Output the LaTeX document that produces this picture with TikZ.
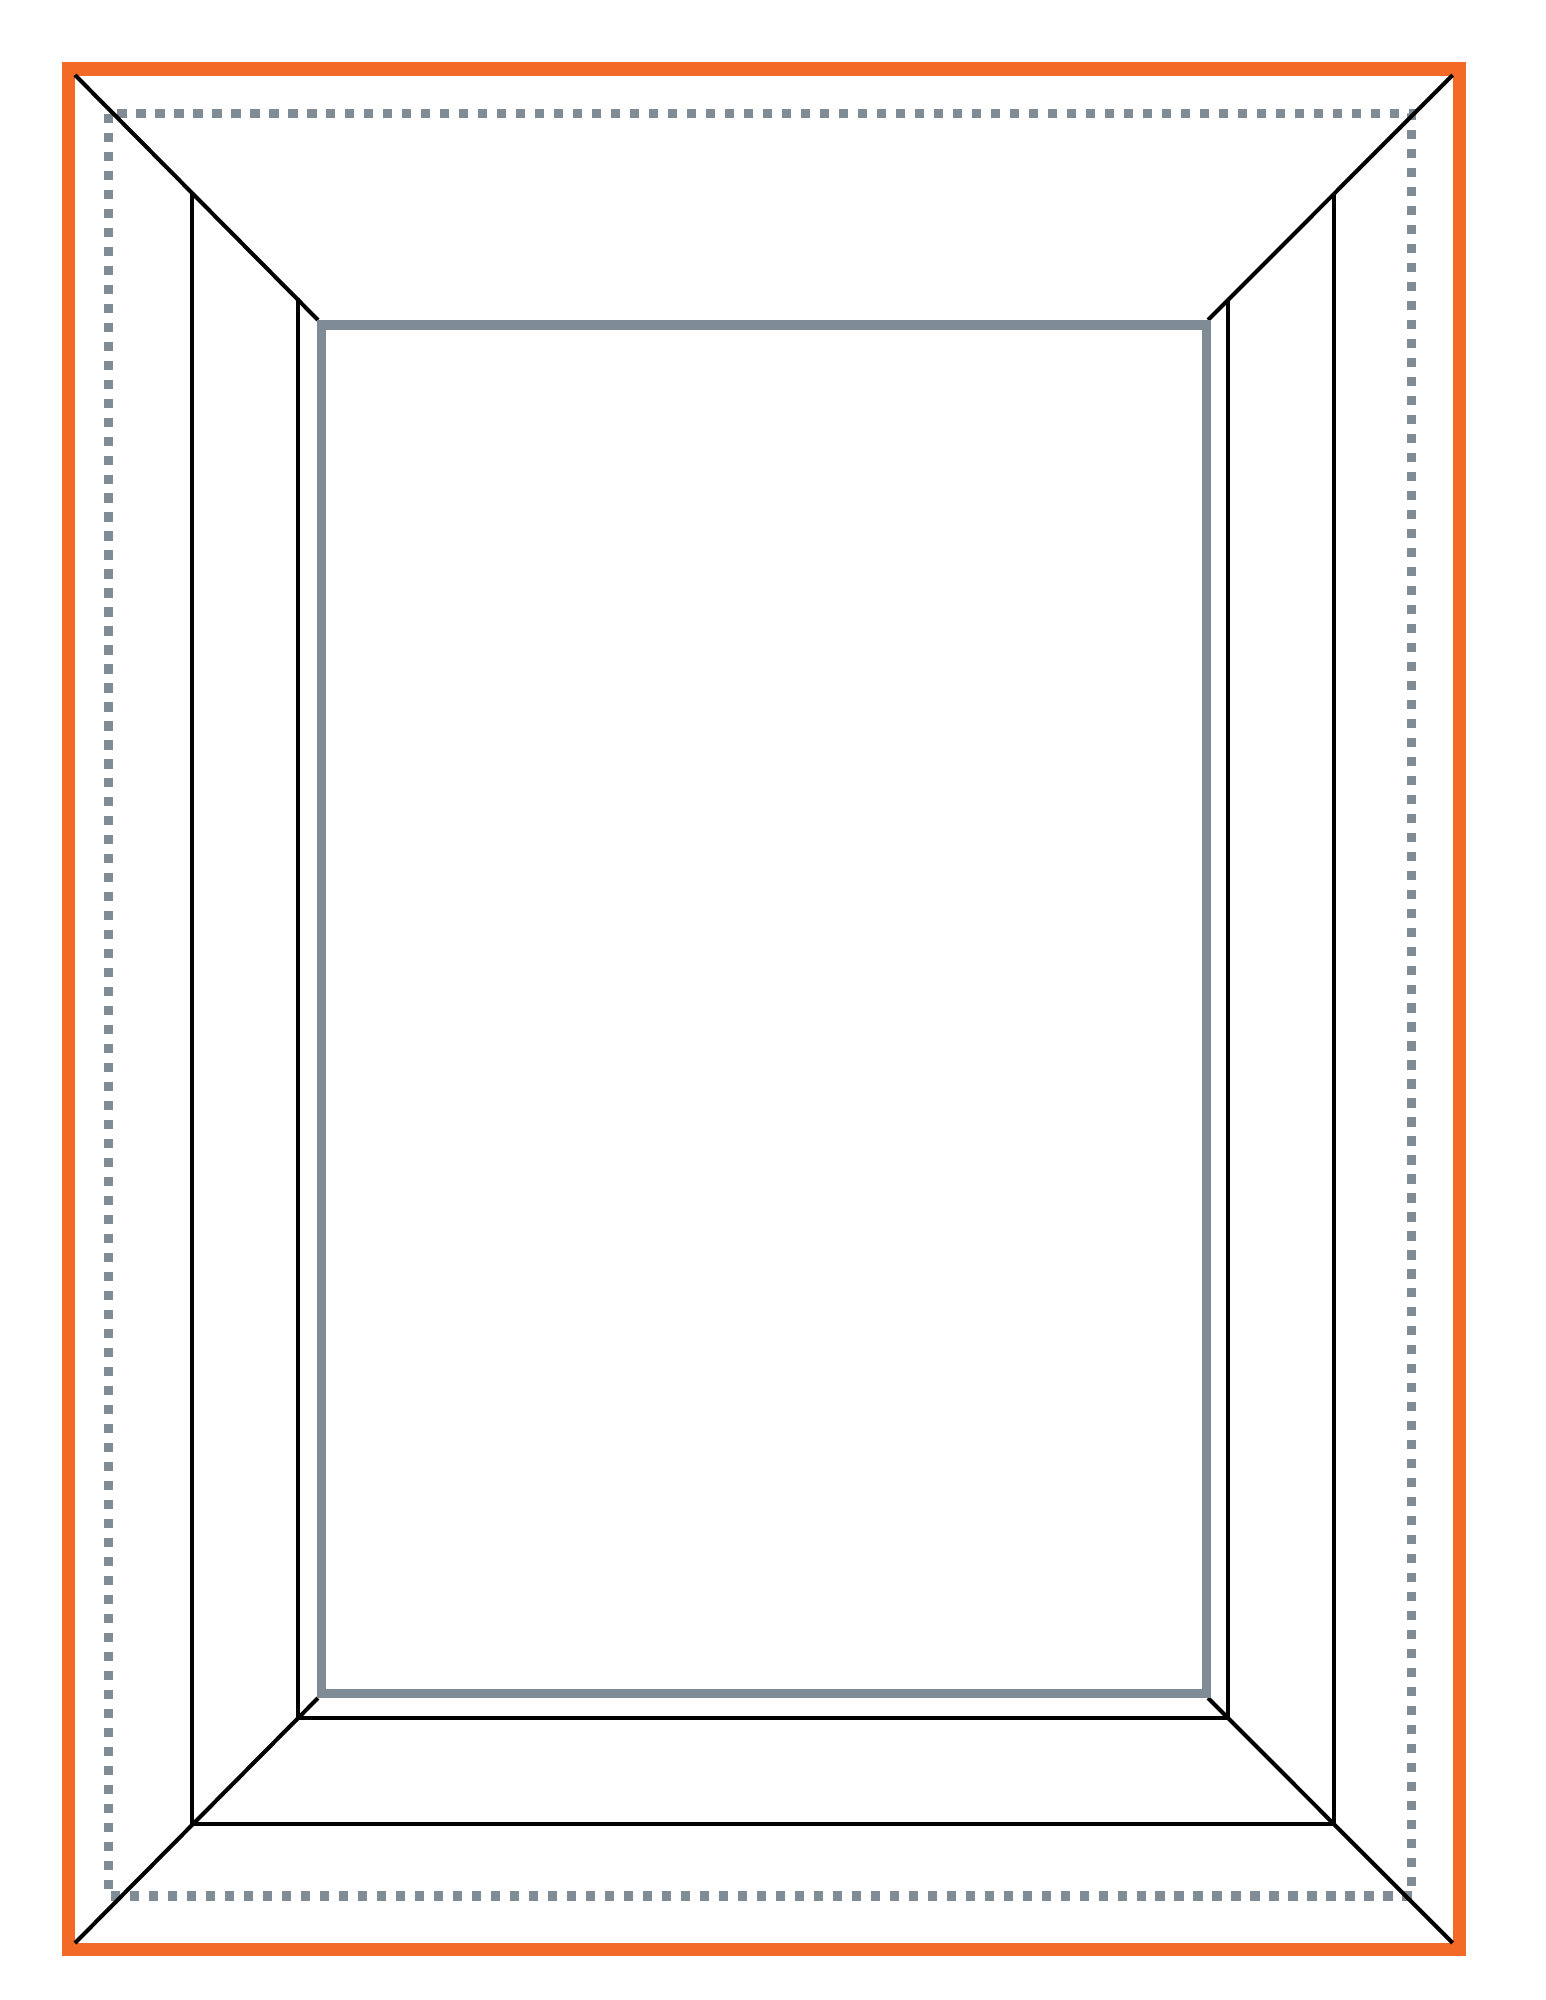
\documentclass[tikz,border=0pt]{standalone}
\definecolor{frameorange}{RGB}{242,106,38}
\definecolor{slategray}{RGB}{127,140,149}
\begin{document}
\begin{tikzpicture}[x=0.01cm,y=-0.01cm,
    outerframe/.style={line width=3.7pt, frameorange},
    safeline/.style={line width=2.6pt, slategray, dash pattern=on 2.6pt off 2.8pt},
    panelline/.style={line width=2.56pt, slategray},
    bevelline/.style={line width=1.15pt, black}]
    \useasboundingbox (0,0) rectangle (1545,2000);
    \coordinate (FrameTL) at (68.5,69);
    \coordinate (FrameBR) at (1459,1949.5);
    \coordinate (CornerTL) at (75,75);
    \coordinate (CornerTR) at (1452.7,75);
    \coordinate (CornerBL) at (75,1943);
    \coordinate (CornerBR) at (1452.7,1943);
    \coordinate (SafeTL) at (108.3,113.7);
    \coordinate (SafeBR) at (1411.5,1896);
    \coordinate (PanelTL) at (321,325);
    \coordinate (PanelBR) at (1206,1693);
    \draw [outerframe] (FrameTL) rectangle (FrameBR);% Draw frame
    \draw [safeline] (SafeTL) rectangle (SafeBR);% Draw safe area

    \coordinate (DiagTL) at (318,320);
    \coordinate (DiagTR) at (1208,320);
    \coordinate (DiagBL) at (318,1698);
    \coordinate (DiagBR) at (1208,1698);
    \draw [bevelline] (CornerTL) -- (DiagTL);% Draw diagonals
    \draw [bevelline] (CornerTR) -- (DiagTR);
    \draw [bevelline] (CornerBL) -- (DiagBL);
    \draw [bevelline] (CornerBR) -- (DiagBR);

    \coordinate (OuterLT) at (192,192);
    \coordinate (OuterLB) at (192,1824);
    \coordinate (OuterRB) at (1334,1824);
    \coordinate (OuterRT) at (1334,194);
    \draw [bevelline] (OuterLT) -- (OuterLB) -- (OuterRB) -- (OuterRT);% Draw outer step

    \coordinate (InnerLT) at (298,298);
    \coordinate (InnerLB) at (298,1718);
    \coordinate (InnerRB) at (1228,1718);
    \coordinate (InnerRT) at (1228,300);
    \draw [bevelline] (InnerLT) -- (InnerLB) -- (InnerRB) -- (InnerRT);% Draw inner step

    \draw [panelline] (PanelTL) rectangle (PanelBR);% Draw panel
  \end{tikzpicture}
\end{document}
